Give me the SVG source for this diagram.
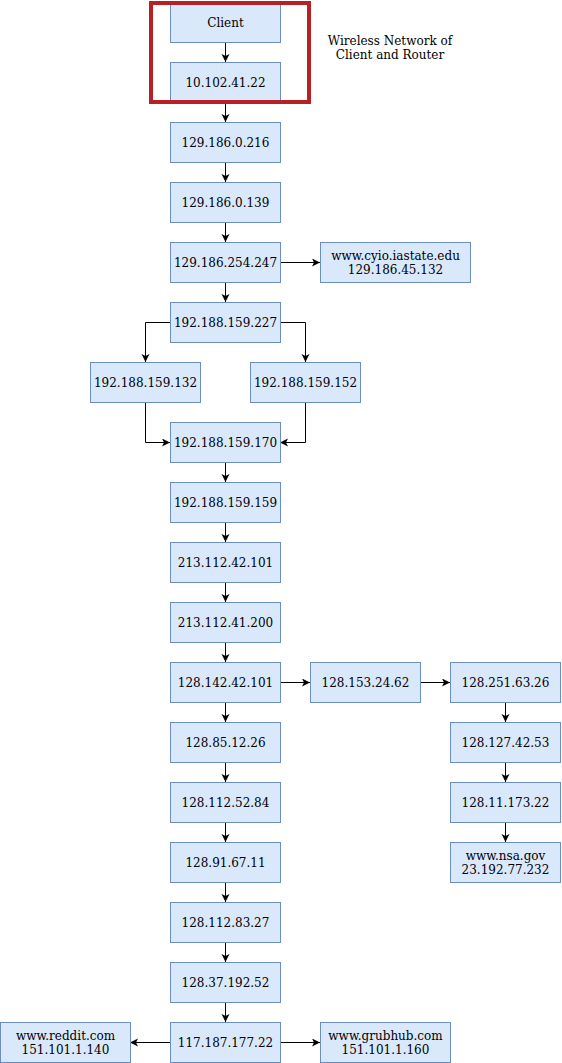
<svg xmlns="http://www.w3.org/2000/svg" width="562" height="1063" viewBox="0 0 562 1063">
  <style>
    .box { fill: #dae8fc; stroke: #6c8ebf; stroke-width: 1; }
    .lbl { font-family: "DejaVu Serif", "Liberation Serif", serif; font-size: 12px; fill: #000; text-anchor: middle; }
    .edge { fill: none; stroke: #000; stroke-width: 1; marker-end: url(#arr); }
  </style>
  <defs>
    <marker id="arr" markerWidth="10" markerHeight="10" refX="8" refY="4" orient="auto" markerUnits="userSpaceOnUse">
      <path d="M0,0 L8,4 L0,8 L2,4 Z" fill="#000"/>
    </marker>
  </defs>
  <rect width="562" height="1063" fill="#fff"/>

  <g id="connectors">
    <path class="edge" d="M225.5,42 V62"/>
    <path class="edge" d="M225.5,102 V122"/>
    <path class="edge" d="M225.5,162 V182"/>
    <path class="edge" d="M225.5,222 V242"/>
    <path class="edge" d="M280,262.5 H320"/>
    <path class="edge" d="M225.5,282 V302"/>
    <path class="edge" d="M170,322.5 H145.5 V362"/>
    <path class="edge" d="M280,322.5 H305.5 V362"/>
    <path class="edge" d="M145.5,402 V442.5 H170"/>
    <path class="edge" d="M305.5,402 V442.5 H280"/>
    <path class="edge" d="M225.5,462 V482"/>
    <path class="edge" d="M225.5,522 V542"/>
    <path class="edge" d="M225.5,582 V602"/>
    <path class="edge" d="M225.5,642 V662"/>
    <path class="edge" d="M280,682.5 H310"/>
    <path class="edge" d="M420,682.5 H450"/>
    <path class="edge" d="M505.5,702 V722"/>
    <path class="edge" d="M505.5,762 V782"/>
    <path class="edge" d="M505.5,822 V842"/>
    <path class="edge" d="M225.5,702 V722"/>
    <path class="edge" d="M225.5,762 V782"/>
    <path class="edge" d="M225.5,822 V842"/>
    <path class="edge" d="M225.5,882 V902"/>
    <path class="edge" d="M225.5,942 V962"/>
    <path class="edge" d="M225.5,1002 V1022"/>
    <path class="edge" d="M170,1042.5 H130"/>
    <path class="edge" d="M280,1042.5 H320"/>
  </g>

  <g id="client"><rect class="box" x="170.5" y="2.5" width="110" height="40"/><text class="lbl" x="225.5" y="26.5">Client</text></g>
  <g id="router"><rect class="box" x="170.5" y="62.5" width="110" height="40"/><text class="lbl" x="225.5" y="86.5">10.102.41.22</text></g>
  <g id="hop-129-186-0-216"><rect class="box" x="170.5" y="122.5" width="110" height="40"/><text class="lbl" x="225.5" y="146.5">129.186.0.216</text></g>
  <g id="hop-129-186-0-139"><rect class="box" x="170.5" y="182.5" width="110" height="40"/><text class="lbl" x="225.5" y="206.5">129.186.0.139</text></g>
  <g id="hop-129-186-254-247"><rect class="box" x="170.5" y="242.5" width="110" height="40"/><text class="lbl" x="225.5" y="266.5">129.186.254.247</text></g>
  <g id="cyio"><rect class="box" x="320.5" y="242.5" width="150" height="40"/><text class="lbl" x="395.5" y="259.5">www.cyio.iastate.edu</text><text class="lbl" x="395.5" y="273.5">129.186.45.132</text></g>
  <g id="hop-192-188-159-227"><rect class="box" x="170.5" y="302.5" width="110" height="40"/><text class="lbl" x="225.5" y="326.5">192.188.159.227</text></g>
  <g id="hop-192-188-159-132"><rect class="box" x="90.5" y="362.5" width="110" height="40"/><text class="lbl" x="145.5" y="386.5">192.188.159.132</text></g>
  <g id="hop-192-188-159-152"><rect class="box" x="250.5" y="362.5" width="110" height="40"/><text class="lbl" x="305.5" y="386.5">192.188.159.152</text></g>
  <g id="hop-192-188-159-170"><rect class="box" x="170.5" y="422.5" width="110" height="40"/><text class="lbl" x="225.5" y="446.5">192.188.159.170</text></g>
  <g id="hop-192-188-159-159"><rect class="box" x="170.5" y="482.5" width="110" height="40"/><text class="lbl" x="225.5" y="506.5">192.188.159.159</text></g>
  <g id="hop-213-112-42-101"><rect class="box" x="170.5" y="542.5" width="110" height="40"/><text class="lbl" x="225.5" y="566.5">213.112.42.101</text></g>
  <g id="hop-213-112-41-200"><rect class="box" x="170.5" y="602.5" width="110" height="40"/><text class="lbl" x="225.5" y="626.5">213.112.41.200</text></g>
  <g id="hop-128-142-42-101"><rect class="box" x="170.5" y="662.5" width="110" height="40"/><text class="lbl" x="225.5" y="686.5">128.142.42.101</text></g>
  <g id="hop-128-153-24-62"><rect class="box" x="310.5" y="662.5" width="110" height="40"/><text class="lbl" x="365.5" y="686.5">128.153.24.62</text></g>
  <g id="hop-128-251-63-26"><rect class="box" x="450.5" y="662.5" width="110" height="40"/><text class="lbl" x="505.5" y="686.5">128.251.63.26</text></g>
  <g id="hop-128-127-42-53"><rect class="box" x="450.5" y="722.5" width="110" height="40"/><text class="lbl" x="505.5" y="746.5">128.127.42.53</text></g>
  <g id="hop-128-11-173-22"><rect class="box" x="450.5" y="782.5" width="110" height="40"/><text class="lbl" x="505.5" y="806.5">128.11.173.22</text></g>
  <g id="nsa"><rect class="box" x="450.5" y="842.5" width="110" height="40"/><text class="lbl" x="505.5" y="859.5">www.nsa.gov</text><text class="lbl" x="505.5" y="873.5">23.192.77.232</text></g>
  <g id="hop-128-85-12-26"><rect class="box" x="170.5" y="722.5" width="110" height="40"/><text class="lbl" x="225.5" y="746.5">128.85.12.26</text></g>
  <g id="hop-128-112-52-84"><rect class="box" x="170.5" y="782.5" width="110" height="40"/><text class="lbl" x="225.5" y="806.5">128.112.52.84</text></g>
  <g id="hop-128-91-67-11"><rect class="box" x="170.5" y="842.5" width="110" height="40"/><text class="lbl" x="225.5" y="866.5">128.91.67.11</text></g>
  <g id="hop-128-112-83-27"><rect class="box" x="170.5" y="902.5" width="110" height="40"/><text class="lbl" x="225.5" y="926.5">128.112.83.27</text></g>
  <g id="hop-128-37-192-52"><rect class="box" x="170.5" y="962.5" width="110" height="40"/><text class="lbl" x="225.5" y="986.5">128.37.192.52</text></g>
  <g id="hop-117-187-177-22"><rect class="box" x="170.5" y="1022.5" width="110" height="40"/><text class="lbl" x="225.5" y="1046.5">117.187.177.22</text></g>
  <g id="reddit"><rect class="box" x="0.5" y="1022.5" width="130" height="40"/><text class="lbl" x="65.5" y="1039.5">www.reddit.com</text><text class="lbl" x="65.5" y="1053.5">151.101.1.140</text></g>
  <g id="grubhub"><rect class="box" x="320.5" y="1022.5" width="130" height="40"/><text class="lbl" x="385.5" y="1039.5">www.grubhub.com</text><text class="lbl" x="385.5" y="1053.5">151.101.1.160</text></g>

  <g id="wireless-group">
    <rect x="151" y="3" width="158" height="99" fill="none" stroke="#b72025" stroke-width="4"/>
    <text class="lbl" x="390" y="45">Wireless Network of</text>
    <text class="lbl" x="390" y="59">Client and Router</text>
  </g>
</svg>
